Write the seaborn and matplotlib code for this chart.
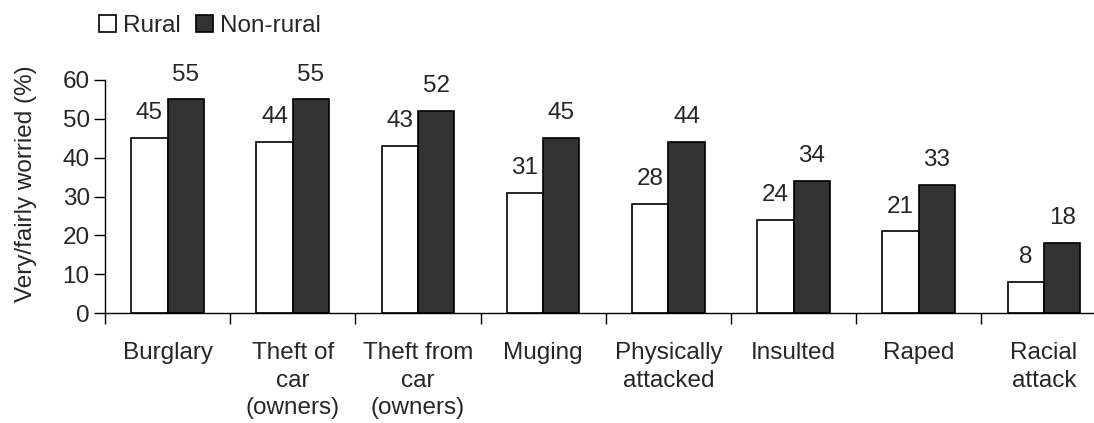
import matplotlib
matplotlib.use("Agg")
import matplotlib.pyplot as plt
import numpy as np
import pandas as pd
import seaborn as sns

# Data
CATEGORIES = ["Burglary", "Theft of\ncar\n(owners)", "Theft from\ncar\n(owners)",
              "Muging", "Physically\nattacked", "Insulted", "Raped", "Racial\nattack"]
RURAL = [45, 44, 43, 31, 28, 24, 21, 8]
NON_RURAL = [55, 55, 52, 45, 44, 34, 33, 18]
GROUPS = ["Rural", "Non-rural"]
YTICKS = [0, 10, 20, 30, 40, 50, 60]

FNAME_PLOT = "out.png"
FS = 17.5


def do_plot():
    df = pd.DataFrame({
        "category": CATEGORIES * 2,
        "group": [GROUPS[0]] * len(RURAL) + [GROUPS[1]] * len(NON_RURAL),
        "value": RURAL + NON_RURAL,
    })

    sns.set_style("white")
    plt.rcParams["font.family"] = ["Liberation Sans", "DejaVu Sans"]
    plt.rcParams["font.size"] = FS

    fig = plt.figure(figsize=(10.94, 4.23), dpi=100)
    ax = fig.add_axes([105 / 1094, 1 - 313 / 423, (1094 - 105) / 1094, 233 / 423])

    sns.barplot(data=df, x="category", y="value", hue="group", order=CATEGORIES,
                hue_order=GROUPS, palette={"Rural": "white", "Non-rural": "#333333"},
                edgecolor="black", linewidth=1.2, width=0.58, gap=0,
                saturation=1, ax=ax, legend=True)

    for cont in ax.containers:
        ax.bar_label(cont, padding=10, fontsize=FS)

    ax.set_ylim(0, 60)
    ax.set_xlim(-0.5, 7.4)
    ax.set_yticks(YTICKS)
    ax.set_xlabel("")
    ax.set_ylabel("Very/fairly worried (%)", fontsize=FS)
    ax.yaxis.set_label_coords(-0.069, 0.555)

    # ticks at category boundaries, labels at centres
    ax.set_xticks(np.arange(len(CATEGORIES)))
    ax.set_xticklabels(CATEGORIES, linespacing=1.33, va="top")
    ax.set_xticks(np.arange(len(CATEGORIES)) - 0.5, minor=True)
    ax.tick_params(axis="x", which="major", length=0, pad=21, labelsize=FS)
    ax.tick_params(axis="x", which="minor", length=8, width=1, color="black",
                   direction="out", bottom=True)
    ax.tick_params(axis="y", length=8, width=1, color="black", direction="out",
                   left=True, labelsize=FS, pad=3)

    sns.despine(ax=ax)
    for side in ["left", "bottom"]:
        ax.spines[side].set_color("black")
        ax.spines[side].set_linewidth(1)

    handles, labels = ax.get_legend_handles_labels()
    ax.legend(handles, labels, loc="center left", bbox_to_anchor=(99 / 1094, 1 - 26 / 423),
              bbox_transform=fig.transFigure, ncol=2, frameon=False,
              handlelength=0.7, handleheight=0.7, handletextpad=0.3,
              columnspacing=0.6, fontsize=FS, borderaxespad=0, borderpad=0)

    fig.savefig(FNAME_PLOT, dpi=100)


if __name__ == "__main__":
    do_plot()
